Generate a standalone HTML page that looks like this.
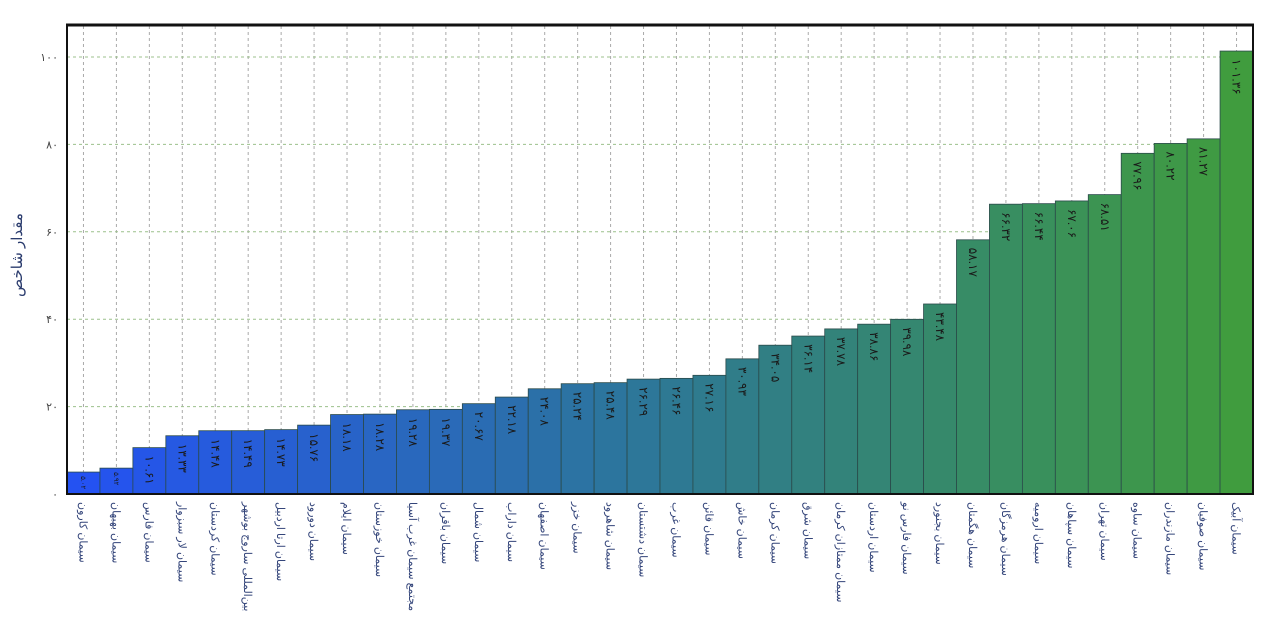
<!DOCTYPE html>
<html><head><meta charset="utf-8"><style>
html,body{margin:0;padding:0;background:#fff;width:1280px;height:620px;overflow:hidden}
svg{display:block;font-family:"Liberation Sans","Noto Sans CJK SC",sans-serif}
</style></head><body>
<svg id="s" width="1280" height="620" xmlns="http://www.w3.org/2000/svg"></svg>
<script>
const vals=[5.02,5.92,10.61,13.33,14.48,14.49,14.73,15.76,18.18,18.28,19.28,19.37,20.67,22.18,24.08,25.24,25.48,26.29,26.46,27.16,30.93,34.05,36.14,37.78,38.86,39.98,43.48,58.17,66.32,66.44,67.06,68.51,77.96,80.22,81.27,101.36];
const names=["سیمان کارون","سیمان بهبهان","سیمان فارس","سیمان لار سبزوار","سیمان کردستان","بین‌المللی ساروج بوشهر","سیمان ارتا اردبیل","سیمان دورود","سیمان ایلام","سیمان خوزستان","مجتمع سیمان غرب آسیا","سیمان باقران","سیمان شمال","سیمان داراب","سیمان اصفهان","سیمان خزر","سیمان شاهرود","سیمان دشتستان","سیمان غرب","سیمان قائن","سیمان خاش","سیمان کرمان","سیمان شرق","سیمان ممتازان کرمان","سیمان اردستان","سیمان فارس نو","سیمان بجنورد","سیمان هگمتان","سیمان هرمزگان","سیمان ارومیه","سیمان سپاهان","سیمان تهران","سیمان ساوه","سیمان مازندران","سیمان صوفیان","سیمان آبیک"];
const fa=s=>String(s).replace(/\d/g,d=>"۰۱۲۳۴۵۶۷۸۹"[d]);
const x0=67,x1=1253,y0=494,k=4.37,bw=(x1-x0)/36;
let h="";
for(let i=0;i<36;i++){const cx=x0+bw*(i+0.5);h+=`<line x1="${cx}" y1="26" x2="${cx}" y2="${y0}" stroke="#aaa" stroke-dasharray="3,3" stroke-width="1"/>`;}
for(let v=20;v<=100;v+=20){const y=y0-v*k;h+=`<line x1="${x0}" y1="${y}" x2="${x1}" y2="${y}" stroke="#9cc08c" stroke-dasharray="3,3" stroke-width="1"/>`;}
for(let v=0;v<=100;v+=20){const y=y0-v*k;h+=`<text x="58" y="${y+4}" font-size="11" fill="#444" text-anchor="end">${fa(v)}</text>`;}
const c1=[36,82,242],c2=[45,120,150],c3=[64,156,62];
function col(t){let a,b,u;if(t<0.5){a=c1;b=c2;u=t/0.5}else{a=c2;b=c3;u=(t-0.5)/0.5}return `rgb(${a.map((q,i)=>Math.round(q+(b[i]-q)*u)).join(",")})`;}
vals.forEach((v,i)=>{const x=x0+bw*i,y=y0-v*k;const c=col(i/35);
h+=`<rect x="${x}" y="${y}" width="${bw}" height="${v*k}" fill="${c}" stroke="#2a4a4a" stroke-width="0.8"/>`;
const s=fa(v.toFixed(2));
const fs=i<2?7:12;
h+=`<text transform="translate(${x+bw/2-(i<2?2.5:4)},${y+(i<2?4:8)}) rotate(90)" font-size="${fs}" fill="#1a1a1a">${s}</text>`;
h+=`<text transform="translate(${x+bw/2-4},${y0+8}) rotate(90)" font-size="11" fill="#34457a">${names[i]}</text>`;});
h+=`<line x1="${x0}" y1="25" x2="${x0}" y2="${y0}" stroke="#111" stroke-width="2"/>`;
h+=`<line x1="${x0-1}" y1="25" x2="${x1+1}" y2="25" stroke="#111" stroke-width="3"/>`;
h+=`<line x1="${x1}" y1="25" x2="${x1}" y2="${y0}" stroke="#111" stroke-width="2"/>`;
h+=`<line x1="${x0-1}" y1="${y0}" x2="${x1+1}" y2="${y0}" stroke="#111" stroke-width="2"/>`;
h+=`<text transform="translate(22,255) rotate(-90)" font-size="15" fill="#2b3c6e" text-anchor="middle">مقدار شاخص</text>`;
document.getElementById("s").innerHTML=h;
</script>
</body></html>
